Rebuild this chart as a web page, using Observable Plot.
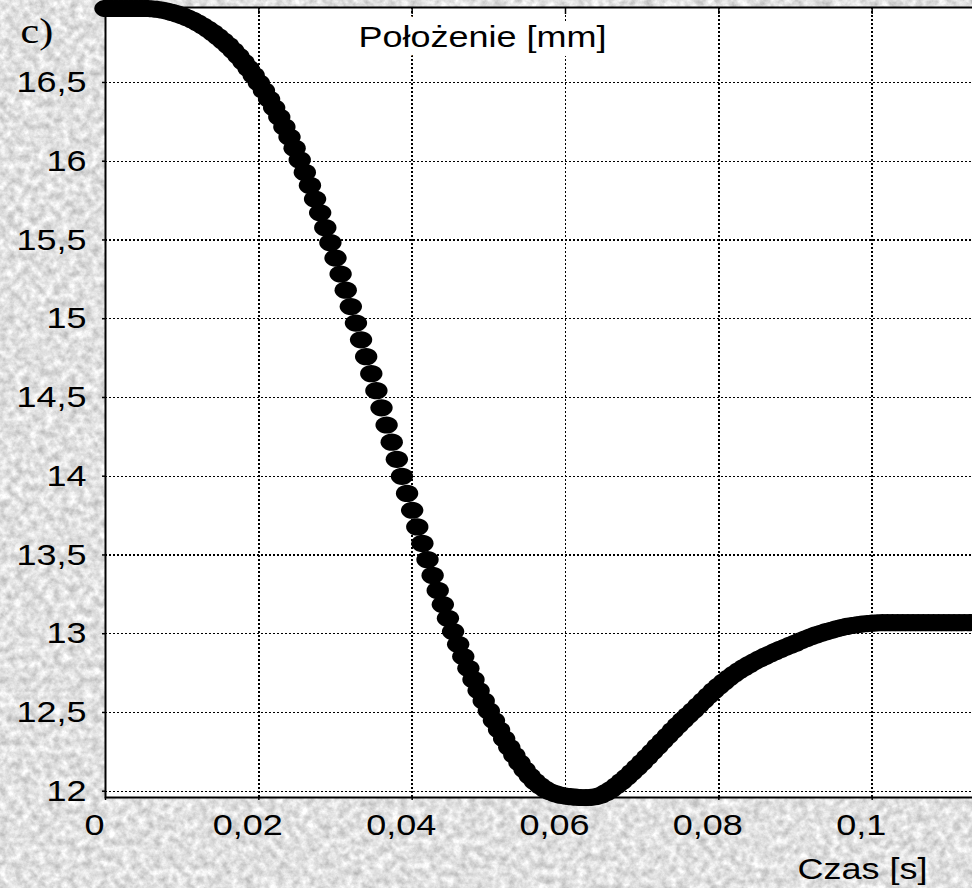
<!DOCTYPE html>
<html>
<head>
<meta charset="utf-8">
<script src="https://cdn.jsdelivr.net/npm/d3@7"></script>
<script src="https://cdn.jsdelivr.net/npm/@observablehq/plot@0.6"></script>
<style>
html, body { margin: 0; padding: 0; width: 972px; height: 888px; overflow: hidden; }
body { background-color: #dcdcdc; }
svg { display: block; }
</style>
</head>
<body>
<script>
// ---- data ----
const sampleRate = 1500; // samples per second (dot spacing)
const position = [
  16.97,16.97,16.97,16.97,16.97,16.97,16.97,16.97,16.97,16.968,
  16.965,16.96,16.953,16.945,16.935,16.924,16.911,16.896,16.879,16.86,
  16.839,16.816,16.791,16.764,16.735,16.703,16.668,16.63,16.589,16.545,
  16.498,16.448,16.395,16.339,16.28,16.218,16.153,16.083,16.008,15.929,
  15.846,15.76,15.672,15.578,15.483,15.385,15.284,15.181,15.077,14.972,
  14.866,14.759,14.651,14.543,14.434,14.325,14.216,14.107,13.999,13.891,
  13.784,13.678,13.573,13.47,13.37,13.275,13.185,13.098,13.014,12.933,
  12.855,12.78,12.708,12.639,12.573,12.51,12.449,12.39,12.333,12.279,
  12.228,12.18,12.136,12.096,12.062,12.035,12.013,11.996,11.984,11.975,
  11.969,11.965,11.962,11.96,11.96,11.961,11.966,11.976,11.992,12.012,
  12.036,12.062,12.09,12.12,12.151,12.183,12.216,12.25,12.284,12.318,
  12.352,12.386,12.419,12.451,12.482,12.512,12.544,12.576,12.607,12.638,
  12.667,12.694,12.72,12.744,12.766,12.786,12.805,12.823,12.84,12.856,
  12.871,12.886,12.9,12.914,12.927,12.94,12.955,12.968,12.98,12.992,
  13.003,13.013,13.022,13.031,13.039,13.046,13.052,13.057,13.061,13.064,
  13.067,13.069,13.07,13.07,13.07,13.07,13.07,13.07,13.07,13.07,
  13.07,13.07,13.07,13.07,13.07,13.07,13.07,13.07,13.07,13.07,13.07
];
const xTicks = [0, 0.02, 0.04, 0.06, 0.08, 0.1];
const xTickLabels = ["0", "0,02", "0,04", "0,06", "0,08", "0,1"];
const yTicks = [12, 12.5, 13, 13.5, 14, 14.5, 15, 15.5, 16, 16.5];
const yTickLabels = ["12", "12,5", "13", "13,5", "14", "14,5", "15", "15,5", "16", "16,5"];
const panelLabel = "c)";
const yTitle = "Położenie [mm]";
const xTitle = "Czas [s]";

const data = position.map((v, i) => ({t: i / sampleRate, v}));

// stone-like background texture
const noise = `<svg xmlns='http://www.w3.org/2000/svg' width='972' height='888'><filter id='n' x='0' y='0' width='100%' height='100%' color-interpolation-filters='sRGB'><feTurbulence type='fractalNoise' baseFrequency='0.13' numOctaves='4' seed='7'/><feColorMatrix values='0.4 0 0 0 0.68  0.4 0 0 0 0.68  0.4 0 0 0 0.68  0 0 0 0 1'/></filter><rect width='100%' height='100%' filter='url(#n)'/></svg>`;
document.body.style.backgroundImage = `url("data:image/svg+xml,${encodeURIComponent(noise)}")`;

// horizontally stretched dot (ellipse)
const ellipseSymbol = {
  draw(context, size) {
    const r = Math.sqrt(size / Math.PI);
    const rx = r * 1.3, ry = r, k = 0.5523;
    context.moveTo(rx, 0);
    context.bezierCurveTo(rx, k * ry, k * rx, ry, 0, ry);
    context.bezierCurveTo(-k * rx, ry, -rx, k * ry, -rx, 0);
    context.bezierCurveTo(-rx, -k * ry, -k * rx, -ry, 0, -ry);
    context.bezierCurveTo(k * rx, -ry, rx, -k * ry, rx, 0);
    context.closePath();
  }
};

const dash = {stroke: "black", strokeOpacity: 1, strokeWidth: 1.4, strokeDasharray: "2,2", shapeRendering: "crispEdges"};

const chart = Plot.plot({
  width: 980,
  height: 888,
  marginLeft: 105,
  marginRight: 0,
  marginTop: 7,
  marginBottom: 91,
  style: {background: "transparent", fontFamily: "'Liberation Sans', Arial, sans-serif", maxWidth: "none", overflow: "visible", color: "black"},
  x: {domain: [0, 0.11413]},
  y: {domain: [11.96, 16.976]},
  marks: [
    Plot.frame({fill: "white", stroke: null}),
    Plot.gridX(xTicks, dash),
    Plot.gridY(yTicks, dash),
    Plot.tickX(xTicks, {x: d => d, stroke: "black", strokeWidth: 1.5, insetBottom: 783}),
    Plot.text([yTitle], {frameAnchor: "top-left", dx: 377, dy: 30, text: d => d, textAnchor: "middle", lineAnchor: "middle",
      fontSize: 30, fill: "black", stroke: "white", strokeWidth: 18, strokeLinejoin: "round", paintOrder: "stroke"}),
    Plot.dot(data, {x: "t", y: "v", r: 8.6, symbol: ellipseSymbol, fill: "black", stroke: "none"}),
    Plot.axisY(yTicks, {anchor: "left", tickSize: 3, tickPadding: 16, fontSize: 30, strokeWidth: 1.5,
      tickFormat: d => yTickLabels[yTicks.indexOf(d)], label: null}),
    Plot.axisX(xTicks, {anchor: "bottom", tickSize: 3, strokeWidth: 1.5, tickFormat: () => "", label: null}),
    Plot.text(xTicks, {x: d => d, text: (d, i) => xTickLabels[i], frameAnchor: "bottom", dy: 16, dx: -11,
      lineAnchor: "top", textAnchor: "middle", fontSize: 30, fill: "black"}),
    Plot.text([xTitle], {frameAnchor: "bottom-right", dx: -53, dy: 72, text: d => d, textAnchor: "end", lineAnchor: "middle",
      fontSize: 30, fill: "black"}),
    Plot.text([panelLabel], {frameAnchor: "top-left", dx: -85, dy: 24, text: d => d, textAnchor: "start", lineAnchor: "middle",
      fontSize: 35, fontFamily: "'Liberation Serif', 'Times New Roman', serif", fill: "black"}),
    Plot.frame({stroke: "black", strokeWidth: 2, fill: "none"})
  ]
});

document.body.append(chart);

// the original picture is stretched horizontally: widen all glyphs
chart.querySelectorAll("text").forEach(t => {
  const w = t.getComputedTextLength();
  if (w > 0) {
    t.setAttribute("textLength", (w * 1.2).toFixed(2));
    t.setAttribute("lengthAdjust", "spacingAndGlyphs");
  }
});
</script>
</body>
</html>
